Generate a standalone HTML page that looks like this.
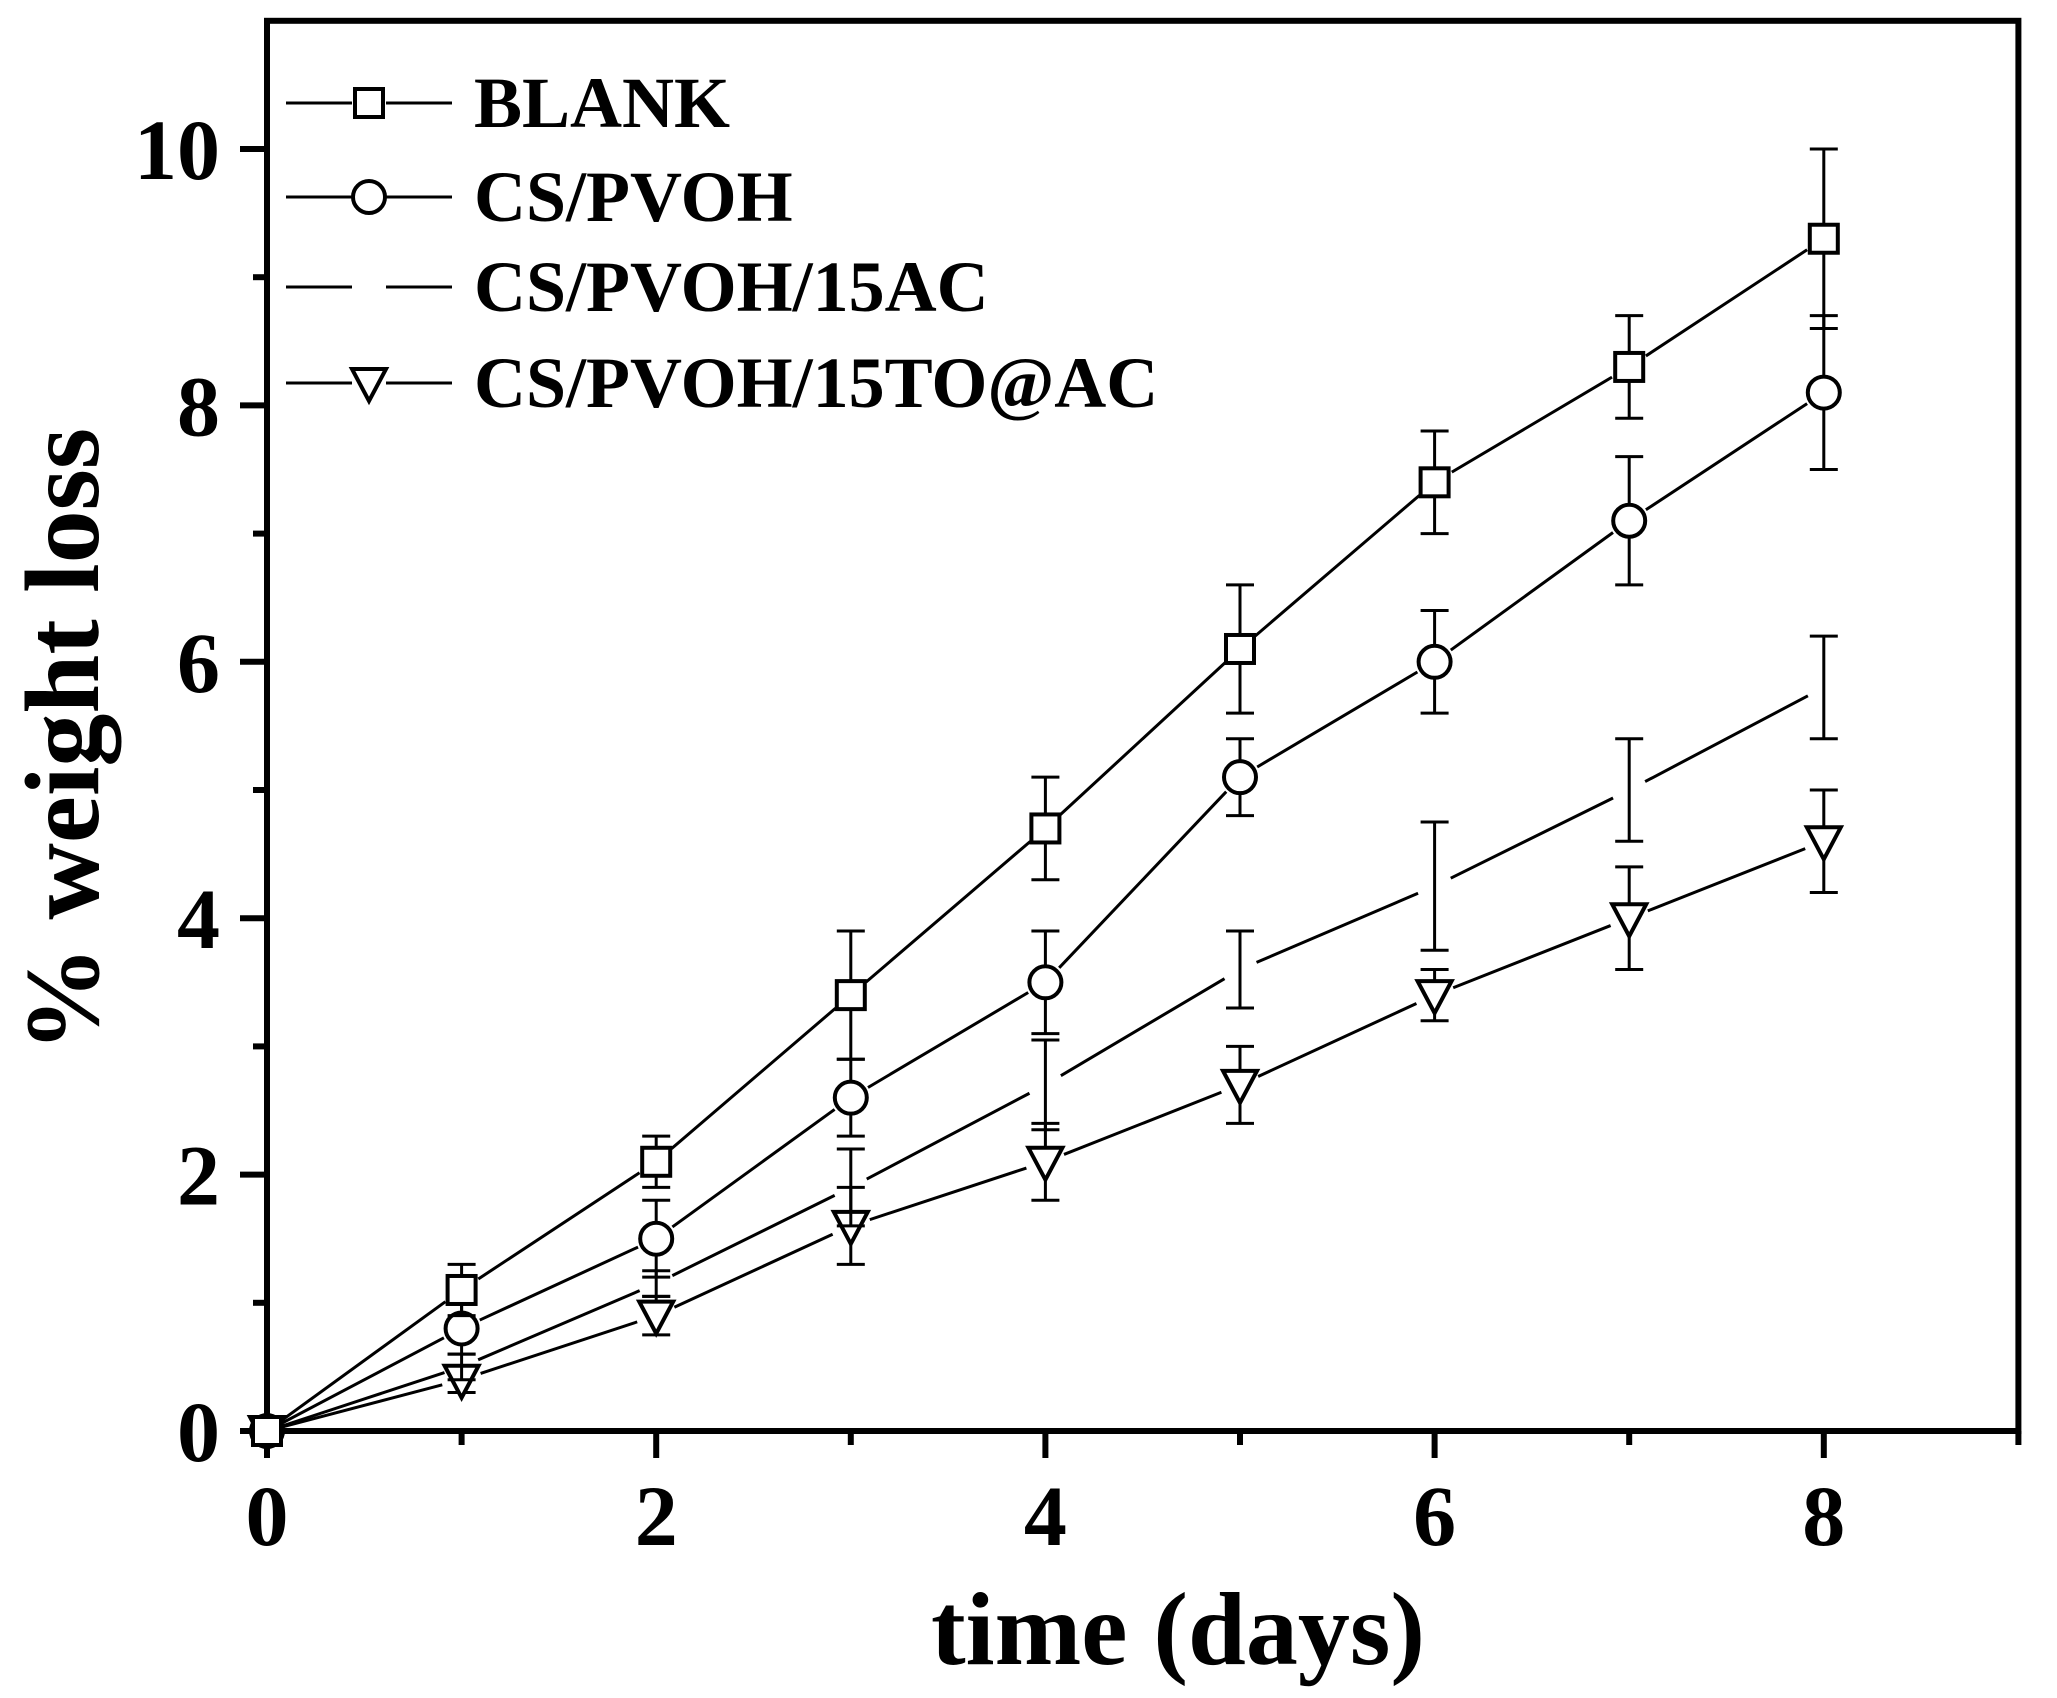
<!DOCTYPE html>
<html><head><meta charset="utf-8">
<style>
html,body{margin:0;padding:0;background:#fff;}
svg{display:block;font-family:"Liberation Serif",serif;font-weight:bold;}
</style></head>
<body>
<svg id="chart" width="2057" height="1698" viewBox="0 0 2057 1698" xmlns="http://www.w3.org/2000/svg">
<rect x="0" y="0" width="2057" height="1698" fill="#fff"/>
<g id="axes"></g>
<g id="series"></g>
<g id="legend"></g>
<text x="1178" y="1664" font-size="104" text-anchor="middle">time (days)</text>
<text transform="translate(98,740) rotate(-90)" font-size="106" text-anchor="middle">% weight loss</text>
</svg>
<script>
const days = [0,1,2,3,4,5,6,7,8];
const blankVals = [0,1.1,2.1,3.4,4.7,6.1,7.4,8.3,9.3];
const blankErr  = [0,0.2,0.2,0.5,0.4,0.5,0.4,0.4,0.7];
const cspvohVals = [0,0.8,1.5,2.6,3.5,5.1,6.0,7.1,8.1];
const cspvohErr  = [0,0.2,0.3,0.3,0.4,0.3,0.4,0.5,0.6];
const acVals = [0,0.5,1.15,1.9,2.7,3.6,4.25,5.0,5.8];
const acErr  = [0,0.1,0.1,0.3,0.35,0.3,0.5,0.4,0.4];
const toVals = [0,0.4,0.9,1.6,2.1,2.7,3.4,4.0,4.6];
const toErr  = [0,0.1,0.15,0.3,0.3,0.3,0.2,0.4,0.4];
const xTicks = [0,2,4,6,8];
const yTicks = [0,2,4,6,8,10];
const legendLabels = ["BLANK","CS/PVOH","CS/PVOH/15AC","CS/PVOH/15TO@AC"];

const NS="http://www.w3.org/2000/svg";
const X0=267, XU=194.6, Y0=1431, YU=128.2, XMAX=9, YMAX=11;
const sx=v=>X0+v*XU, sy=v=>Y0-v*YU;
function mk(tag,attrs,parent){const e=document.createElementNS(NS,tag);for(const k in attrs)e.setAttribute(k,attrs[k]);parent.appendChild(e);return e;}
const axes=document.getElementById('axes');
let fr=mk('rect',{x:X0,y:sy(YMAX),width:sx(XMAX)-X0,height:Y0-sy(YMAX),fill:'none',stroke:'#000','stroke-width':6},axes);


for(let v=0;v<=XMAX;v++){
  const major=v%2===0;
  let t=mk('line',{x1:sx(v),x2:sx(v),y1:Y0,y2:Y0+(major?27:14),stroke:'#000','stroke-width':6},axes);
  
  
}
xTicks.forEach(v=>{
  let t=mk('text',{x:sx(v),y:1545,'font-size':86,'text-anchor':'middle'},axes);t.textContent=v;
  
  
});
for(let v=0;v<=YMAX-1;v++){
  const major=v%2===0;
  let t=mk('line',{x1:X0-(major?27:14),x2:X0,y1:sy(v),y2:sy(v),stroke:'#000','stroke-width':6},axes);
  
  
}
yTicks.forEach(v=>{
  let t=mk('text',{x:220,y:sy(v)+30,'font-size':86,'text-anchor':'end'},axes);t.textContent=v;
  
  
});

const series=document.getElementById('series');
function marker(type,cx,cy,g){
  let m;
  if(type==='square') m=mk('rect',{x:cx-14,y:cy-14,width:28,height:28,fill:'#fff',stroke:'#000','stroke-width':4},g);
  else if(type==='circle') m=mk('ellipse',{cx:cx,cy:cy,rx:16,ry:16,fill:'#fff',stroke:'#000','stroke-width':4},g);
  else if(type==='tri') m=mk('polygon',{points:`${cx-17},${cy-14} ${cx+17},${cy-14} ${cx},${cy+18}`,fill:'#fff',stroke:'#000','stroke-width':4},g);
  return m;
}
function drawSeries(name,vals,errs,type){
  const g=mk('g',{},series);
  
  
  const gap=type?20:18;
  for(let i=0;i<days.length-1;i++){
    const x1=sx(days[i]),y1=sy(vals[i]),x2=sx(days[i+1]),y2=sy(vals[i+1]);
    const L=Math.hypot(x2-x1,y2-y1),ux=(x2-x1)/L,uy=(y2-y1)/L;
    const g0=i===0?4:gap;
    let l=mk('line',{x1:x1+ux*g0,y1:y1+uy*g0,x2:x2-ux*gap,y2:y2-uy*gap,stroke:'#000','stroke-width':3},g);
    
    
  }
  days.forEach((d,i)=>{
    if(errs[i]>0){
      const x=sx(d),yt=sy(vals[i]+errs[i]),yb=sy(vals[i]-errs[i]);
      let e=mk('path',{d:`M${x},${yt}V${yb}M${x-14},${yt}H${x+14}M${x-14},${yb}H${x+14}`,stroke:'#000','stroke-width':3,fill:'none'},g);
      
      
    }
  });
  if(type){
    days.forEach((d,i)=>{
      const m=marker(type,sx(d),sy(vals[i]),g);
      
      
    });
  }
}
drawSeries('series-to-ac',toVals,toErr,'tri');
drawSeries('series-ac',acVals,acErr,null);
drawSeries('series-cspvoh',cspvohVals,cspvohErr,'circle');
drawSeries('series-blank',blankVals,blankErr,'square');

const legend=document.getElementById('legend');
const legTypes=['square','circle',null,'tri'];
const legY=[103,197,287,383];
legendLabels.forEach((lab,i)=>{
  const g=mk('g',{},legend);
  
  
  const y=legY[i];
  mk('line',{x1:286,x2:352,y1:y,y2:y,stroke:'#000','stroke-width':3},g);
  mk('line',{x1:386,x2:452,y1:y,y2:y,stroke:'#000','stroke-width':3},g);
  if(legTypes[i]){const m=marker(legTypes[i],369,y,g);}
  const t=mk('text',{x:474,y:y+24,'font-size':72},g);t.textContent=lab;
  
  
});
</script>
</body></html>
